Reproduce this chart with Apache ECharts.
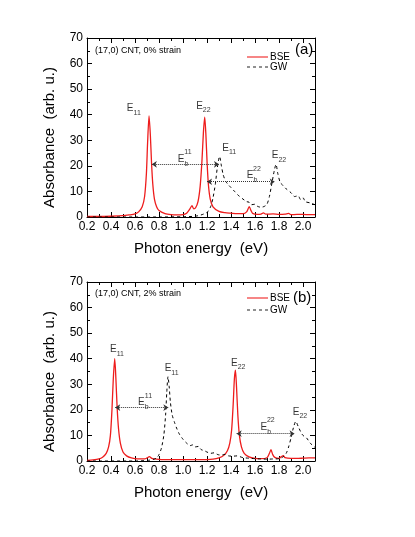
<!DOCTYPE html>
<html>
<head>
<meta charset="utf-8">
<script src="https://cdn.jsdelivr.net/npm/echarts@6/dist/echarts.min.js"></script>
<style>
  html, body { margin: 0; padding: 0; background: #fff; }
  #chart { width: 415px; height: 537px; }
</style>
</head>
<body>
<div id="chart"></div>
<script>
// (a) 0% strain
const bseTopX = [0.2, 0.3, 0.4, 0.5, 0.55, 0.6, 0.63, 0.66, 0.68, 0.695, 0.705, 0.717, 0.728, 0.738, 0.748, 0.762, 0.78, 0.8, 0.85, 0.9, 0.95, 1.0, 1.03, 1.055, 1.075, 1.09, 1.105, 1.125, 1.143, 1.158, 1.17, 1.181, 1.191, 1.201, 1.212, 1.227, 1.25, 1.3, 1.35, 1.4, 1.45, 1.5, 1.53, 1.552, 1.567, 1.58, 1.62, 1.65, 1.67, 1.69, 1.75, 1.8, 1.85, 1.88, 1.9, 1.95, 2.0, 2.05, 2.1];
const bseTopY = [0.2, 0.2, 0.3, 0.5, 0.8, 1.2, 2, 4, 8, 17, 29, 39.5, 32, 21, 13, 7, 4, 2.5, 1.3, 0.9, 0.8, 0.9, 1.5, 3, 4.4, 3.2, 3.6, 6, 12, 22, 33, 39, 32, 21, 12.5, 7, 4, 2.2, 1.7, 1.5, 1.3, 1.3, 2, 4, 2.5, 1.4, 1, 1.1, 1.6, 1.1, 1.2, 1, 1.1, 1.4, 0.9, 1, 1, 0.9, 0.9];
const gwTopX = [0.2, 0.8, 1.0, 1.1, 1.15, 1.2, 1.23, 1.25, 1.27, 1.285, 1.305, 1.32, 1.335, 1.355, 1.38, 1.4, 1.43, 1.46, 1.5, 1.53, 1.55, 1.57, 1.6, 1.62, 1.65, 1.68, 1.7, 1.72, 1.74, 1.76, 1.775, 1.79, 1.81, 1.83, 1.86, 1.9, 1.93, 1.96, 1.98, 2.0, 2.02, 2.06, 2.1];
const gwTopY = [0, 0, 0.1, 0.3, 0.8, 1.8, 4, 7.5, 13, 19, 23.7, 20, 16.5, 14, 12.5, 11.5, 10, 8.5, 7, 6, 5.8, 4.8, 5, 4.2, 3.8, 4.2, 5, 8, 13, 18, 20.6, 17, 13.5, 12.5, 11, 9.5, 8, 8.3, 6.8, 7.5, 6, 5.5, 4.8];

// (b) 2% strain
const bseBotX = [0.2, 0.25, 0.3, 0.33, 0.36, 0.38, 0.395, 0.408, 0.419, 0.431, 0.441, 0.451, 0.463, 0.478, 0.5, 0.53, 0.57, 0.62, 0.68, 0.7, 0.72, 0.74, 0.78, 0.85, 0.95, 1.05, 1.15, 1.25, 1.3, 1.34, 1.37, 1.39, 1.405, 1.418, 1.428, 1.437, 1.446, 1.457, 1.47, 1.487, 1.51, 1.55, 1.6, 1.65, 1.7, 1.72, 1.733, 1.748, 1.765, 1.8, 1.82, 1.836, 1.85, 1.9, 1.95, 2.0, 2.05, 2.1];
const bseBotY = [0.2, 0.4, 0.8, 1.5, 3, 5.5, 10, 20, 32, 40, 32, 21, 12.5, 7, 3.5, 2, 1.2, 0.8, 0.8, 1.2, 1.7, 1, 0.7, 0.5, 0.5, 0.5, 0.5, 0.7, 1.2, 2.2, 4, 7, 12, 22, 32, 35.5, 29, 18, 10, 5.5, 3, 1.6, 1, 0.9, 1.3, 3, 4.4, 2.5, 1.4, 1, 1.7, 2.1, 1.3, 1, 1, 1.1, 1.2, 1.2];
const gwBotX = [0.2, 0.6, 0.7, 0.75, 0.78, 0.8, 0.82, 0.84, 0.855, 0.865, 0.875, 0.885, 0.895, 0.91, 0.93, 0.95, 0.97, 1.0, 1.03, 1.06, 1.08, 1.1, 1.13, 1.15, 1.18, 1.2, 1.23, 1.26, 1.29, 1.32, 1.35, 1.38, 1.42, 1.45, 1.5, 1.55, 1.6, 1.65, 1.7, 1.75, 1.8, 1.83, 1.86, 1.88, 1.9, 1.92, 1.94, 1.96, 1.98, 2.0, 2.03, 2.06, 2.1];
const gwBotY = [0, 0, 0.2, 0.6, 1.2, 2.5, 5, 10, 18, 27, 33, 29, 23, 18, 15, 12.5, 10.5, 8.5, 7, 6, 6.3, 5.5, 5.7, 4.5, 4, 3.5, 3, 3.2, 2.5, 2.3, 2.6, 2, 1.9, 2, 1.3, 1.1, 0.9, 0.8, 0.7, 0.8, 0.9, 1.5, 3, 5.5, 9, 13, 15.5, 13.5, 11.5, 10, 9, 7, 5.3];

// 标注位置 [x, y, 下标/上标]
const peakLabelsTop = [[0.59, 42.6, '11'], [1.17, 43.4, '22'], [1.385, 27, '11'], [1.80, 24, '22']];
const ebLabelsTop = [[1.0, 22.6, '11'], [1.575, 16.2, '22']];
const arrowsTop = [[0.74, 1.30, 20.6], [1.20, 1.765, 13.8]];
const peakLabelsBot = [[0.45, 43.6, '11'], [0.905, 36.1, '11'], [1.46, 38.3, '22'], [1.975, 19.2, '22']];
const ebLabelsBot = [[0.67, 22.8, '11'], [1.69, 13.2, '22']];
const arrowsBot = [[0.435, 0.878, 20.9], [1.447, 1.93, 10.7]];

const zip = (xs, ys) => xs.map((x, i) => [x, ys[i]]);

const FONT = 'Liberation Sans, Arial, sans-serif';
const grids = [
  { left: 87, top: 38, width: 228, height: 179 },
  { left: 87, top: 282, width: 228, height: 179 }
];

function xAxes(gi) {
  const base = {
    type: 'value', gridIndex: gi, min: 0.2, max: 2.1, interval: 0.2,
    axisLine: { onZero: false, lineStyle: { color: '#000', width: 1 } },
    axisTick: { inside: true, length: 5, lineStyle: { color: '#000' } },
    minorTick: { show: true, splitNumber: 2, length: 3, lineStyle: { color: '#000' } },
    splitLine: { show: false }
  };
  return [
    Object.assign({}, base, {
      position: 'bottom',
      name: 'Photon energy  (eV)', nameLocation: 'middle', nameGap: 24,
      nameTextStyle: { fontSize: 15, color: '#000', fontFamily: FONT },
      axisLabel: { fontSize: 12, color: '#000', fontFamily: FONT, margin: 4, showMaxLabel: false,
        formatter: v => v.toFixed(1) }
    }),
    Object.assign({}, base, { position: 'top', axisLabel: { show: false } })
  ];
}

function yAxes(gi) {
  const base = {
    type: 'value', gridIndex: gi, min: 0, max: 70, interval: 10,
    axisLine: { show: true, onZero: false, lineStyle: { color: '#000', width: 1 } },
    axisTick: { inside: true, length: 5, lineStyle: { color: '#000' } },
    minorTick: { show: true, splitNumber: 2, length: 3, lineStyle: { color: '#000' } },
    splitLine: { show: false }
  };
  return [
    Object.assign({}, base, {
      position: 'left',
      name: 'Absorbance  (arb. u.)', nameLocation: 'middle', nameGap: 30, nameRotate: 90,
      nameTextStyle: { fontSize: 15, color: '#000', fontFamily: FONT, padding: [0, 20, 0, 0] },
      axisLabel: { fontSize: 12, color: '#000', fontFamily: FONT, margin: 4 }
    }),
    Object.assign({}, base, { position: 'right', axisLabel: { show: false } })
  ];
}

const richE = {
  e: { fontSize: 10, lineHeight: 16, color: '#000', fontFamily: FONT },
  s: { fontSize: 7, lineHeight: 7, verticalAlign: 'bottom', color: '#000', fontFamily: FONT }
};

function labelSeries(ax, peaks, ebs) {
  return [
    {
      type: 'scatter', xAxisIndex: ax, yAxisIndex: ax, symbolSize: 0, silent: true,
      data: peaks.map(p => ({ value: [p[0], p[1]], sub: p[2] })),
      label: { show: true, position: 'inside', formatter: p => '{e|E}{s|' + p.data.sub + '}', rich: richE }
    },
    {
      type: 'scatter', xAxisIndex: ax, yAxisIndex: ax, symbolSize: 0, silent: true,
      data: ebs.map(p => [p[0], p[1]]),
      label: { show: true, position: 'inside', formatter: '{e|E}{s|b}', rich: richE }
    },
    {
      type: 'scatter', xAxisIndex: ax, yAxisIndex: ax, symbolSize: 0, silent: true,
      data: ebs.map(p => ({ value: [p[0], p[1]], sup: p[2] })),
      label: { show: true, position: 'inside', offset: [5, -7], fontSize: 7, color: '#000', fontFamily: FONT,
        formatter: p => p.data.sup }
    }
  ];
}

function curveSeries(ax, bse, gw, arrows) {
  return [
    {
      name: 'BSE', type: 'line', xAxisIndex: ax, yAxisIndex: ax, data: bse,
      symbol: 'none', smooth: 0.25, lineStyle: { color: '#ee1c1c', width: 1.3 }, itemStyle: { color: '#ee1c1c' }
    },
    {
      name: 'GW', type: 'line', xAxisIndex: ax, yAxisIndex: ax, data: gw,
      symbol: 'none', smooth: 0.25, lineStyle: { color: '#000', width: 1, type: [3, 3] }, itemStyle: { color: '#000' },
      markLine: {
        silent: true, symbol: ['arrow', 'arrow'], symbolSize: 5, label: { show: false },
        lineStyle: { color: '#333', width: 1, type: 'dotted' },
        data: arrows.map(a => [{ coord: [a[0], a[2]] }, { coord: [a[1], a[2]] }])
      }
    }
  ];
}

// 图例图标：实线 / 虚线
const solidIcon = 'path://M0,0h22v1.6h-22z';
const dashIcon = 'path://M0,0h3v1h-3z M6,0h3v1h-3z M12,0h3v1h-3z M18,0h3v1h-3z';
const legendData = [
  { name: 'BSE', icon: solidIcon, itemStyle: { color: '#f36060' } },
  { name: 'GW', icon: dashIcon, itemStyle: { color: '#222' } }
];

const chart = echarts.init(document.getElementById('chart'));
chart.setOption({
  animation: false,
  backgroundColor: '#fff',
  textStyle: { fontFamily: FONT },
  title: [
    { text: '(17,0) CNT, 0% strain', left: 90, top: 41, textStyle: { fontSize: 9, fontWeight: 'normal', color: '#000' } },
    { text: '(a)', left: 290, top: 37, textStyle: { fontSize: 15, fontWeight: 'normal', color: '#000' } },
    { text: '(17,0) CNT, 2% strain', left: 90, top: 284, textStyle: { fontSize: 9, fontWeight: 'normal', color: '#000' } },
    { text: '(b)', left: 288, top: 285, textStyle: { fontSize: 15, fontWeight: 'normal', color: '#000' } }
  ],
  legend: [
    { data: legendData, orient: 'vertical', left: 247, top: 52, padding: 0, itemWidth: 21, itemHeight: 1.6, itemGap: 0,
      textStyle: { fontSize: 10, color: '#000', padding: [0, 0, 0, -3] } },
    { data: legendData, orient: 'vertical', left: 247, top: 293, padding: 0, itemWidth: 21, itemHeight: 1.6, itemGap: 2,
      textStyle: { fontSize: 10, color: '#000', padding: [0, 0, 0, -3] } }
  ],
  grid: grids,
  xAxis: [...xAxes(0), ...xAxes(1)],
  yAxis: [...yAxes(0), ...yAxes(1)],
  series: [
    ...curveSeries(0, zip(bseTopX, bseTopY), zip(gwTopX, gwTopY), arrowsTop),
    ...curveSeries(2, zip(bseBotX, bseBotY), zip(gwBotX, gwBotY), arrowsBot),
    ...labelSeries(0, peakLabelsTop, ebLabelsTop),
    ...labelSeries(2, peakLabelsBot, ebLabelsBot)
  ]
});
</script>
</body>
</html>
